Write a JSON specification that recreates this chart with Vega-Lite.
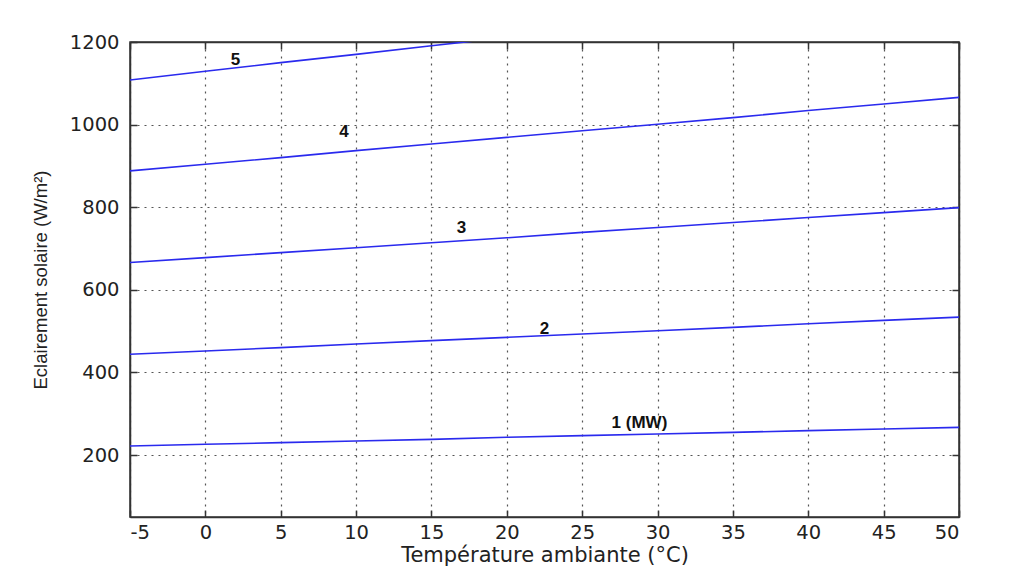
{
  "$schema": "https://vega.github.io/schema/vega-lite/v6.json",
  "width": 829,
  "height": 475,
  "autosize": {"type": "none"},
  "padding": {"left": 130, "top": 42, "right": 52, "bottom": 66},
  "background": "white",
  "config": {
    "view": {"stroke": "#333333", "strokeWidth": 1.5},
    "axis": {
      "domainColor": "#333333",
      "domainWidth": 1.5,
      "tickColor": "#333333",
      "tickWidth": 1.5,
      "tickSize": -7,
      "labelFont": "DejaVu Sans",
      "labelFontSize": 19.5,
      "labelColor": "#222222",
      "labelExpr": "'' + datum.value",
      "titleFont": "Liberation Sans",
      "titleFontWeight": "normal",
      "titleColor": "#222222",
      "gridColor": "#555555",
      "gridDash": [2, 5],
      "gridWidth": 1.2,
      "gridOpacity": 1
    }
  },
  "layer": [
    {
      "data": {
        "values": [
          {"T": -5, "E": 222, "s": "1"}, {"T": 0, "E": 226, "s": "1"}, {"T": 5, "E": 230, "s": "1"}, {"T": 10, "E": 234, "s": "1"}, {"T": 15, "E": 238, "s": "1"}, {"T": 20, "E": 243, "s": "1"}, {"T": 25, "E": 247, "s": "1"}, {"T": 30, "E": 251, "s": "1"}, {"T": 35, "E": 255, "s": "1"}, {"T": 40, "E": 259, "s": "1"}, {"T": 45, "E": 263, "s": "1"}, {"T": 50, "E": 267, "s": "1"},
          {"T": -5, "E": 444, "s": "2"}, {"T": 0, "E": 452, "s": "2"}, {"T": 5, "E": 460, "s": "2"}, {"T": 10, "E": 469, "s": "2"}, {"T": 15, "E": 477, "s": "2"}, {"T": 20, "E": 485, "s": "2"}, {"T": 25, "E": 493, "s": "2"}, {"T": 30, "E": 501, "s": "2"}, {"T": 35, "E": 509, "s": "2"}, {"T": 40, "E": 518, "s": "2"}, {"T": 45, "E": 526, "s": "2"}, {"T": 50, "E": 534, "s": "2"},
          {"T": -5, "E": 666, "s": "3"}, {"T": 0, "E": 678, "s": "3"}, {"T": 5, "E": 690, "s": "3"}, {"T": 10, "E": 702, "s": "3"}, {"T": 15, "E": 714, "s": "3"}, {"T": 20, "E": 726, "s": "3"}, {"T": 25, "E": 739, "s": "3"}, {"T": 30, "E": 751, "s": "3"}, {"T": 35, "E": 763, "s": "3"}, {"T": 40, "E": 775, "s": "3"}, {"T": 45, "E": 787, "s": "3"}, {"T": 50, "E": 799, "s": "3"},
          {"T": -5, "E": 888, "s": "4"}, {"T": 0, "E": 904, "s": "4"}, {"T": 5, "E": 920, "s": "4"}, {"T": 10, "E": 937, "s": "4"}, {"T": 15, "E": 953, "s": "4"}, {"T": 20, "E": 969, "s": "4"}, {"T": 25, "E": 985, "s": "4"}, {"T": 30, "E": 1001, "s": "4"}, {"T": 35, "E": 1017, "s": "4"}, {"T": 40, "E": 1034, "s": "4"}, {"T": 45, "E": 1050, "s": "4"}, {"T": 50, "E": 1066, "s": "4"},
          {"T": -5, "E": 1108, "s": "5"}, {"T": 0, "E": 1129, "s": "5"}, {"T": 5, "E": 1150, "s": "5"}, {"T": 10, "E": 1170, "s": "5"}, {"T": 15, "E": 1191, "s": "5"}, {"T": 20, "E": 1211, "s": "5"}, {"T": 25, "E": 1232, "s": "5"}, {"T": 30, "E": 1252, "s": "5"}, {"T": 35, "E": 1273, "s": "5"}, {"T": 40, "E": 1293, "s": "5"}, {"T": 45, "E": 1314, "s": "5"}, {"T": 50, "E": 1335, "s": "5"}
        ]
      },
      "mark": {"type": "line", "color": "#2a2aee", "strokeWidth": 1.6, "clip": true},
      "encoding": {
        "x": {
          "field": "T", "type": "quantitative",
          "scale": {"domain": [-5, 50], "nice": false, "zero": false},
          "axis": {"orient": "bottom", "values": [-5, 0, 5, 10, 15, 20, 25, 30, 35, 40, 45, 50], "grid": true, "labelPadding": 13, "title": "Température ambiante (°C)", "titleFont": "DejaVu Sans", "titleFontSize": 21, "titlePadding": 3}
        },
        "y": {
          "field": "E", "type": "quantitative",
          "scale": {"domain": [50, 1200], "nice": false, "zero": false},
          "axis": {"orient": "left", "values": [200, 400, 600, 800, 1000, 1200], "grid": true, "labelPadding": 18, "title": "Eclairement solaire (W/m²)", "titleFontSize": 18.5, "titlePadding": 19}
        },
        "detail": {"field": "s", "type": "nominal"}
      }
    },
    {
      "data": {
        "values": [
          {"T": 2.0, "E": 1156, "label": "5"},
          {"T": 9.2, "E": 982, "label": "4"},
          {"T": 17.0, "E": 750, "label": "3"},
          {"T": 22.5, "E": 505, "label": "2"},
          {"T": 28.8, "E": 277, "label": "1 (MW)"}
        ]
      },
      "mark": {"type": "text", "font": "Liberation Sans", "fontWeight": "bold", "fontSize": 17, "color": "#111111", "align": "center", "baseline": "middle"},
      "encoding": {
        "x": {
          "field": "T", "type": "quantitative",
          "axis": {"orient": "top", "values": [-5, 0, 5, 10, 15, 20, 25, 30, 35, 40, 45, 50], "labels": false, "grid": false, "title": null}
        },
        "y": {
          "field": "E", "type": "quantitative",
          "axis": {"orient": "right", "values": [200, 400, 600, 800, 1000, 1200], "labels": false, "grid": false, "title": null}
        },
        "text": {"field": "label", "type": "nominal"}
      }
    }
  ],
  "resolve": {"axis": {"x": "independent", "y": "independent"}}
}
